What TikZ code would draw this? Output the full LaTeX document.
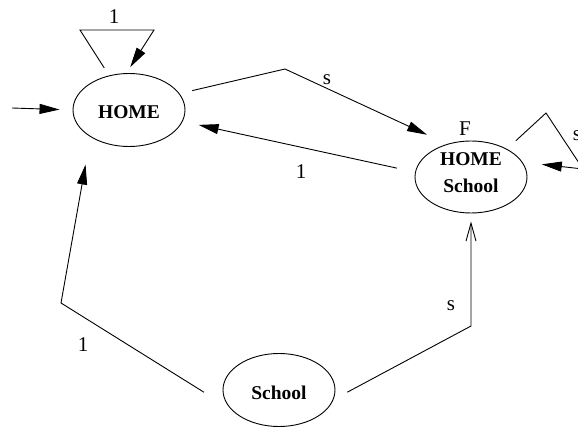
\documentclass[tikz,border=0pt]{standalone}
\usepackage{fontspec}
\setmainfont{Liberation Serif}
\usetikzlibrary{arrows.meta,shapes.geometric}
\tikzset{
  state/.style={draw, ellipse, line width=0.9pt, minimum width=112pt, minimum height=73pt, inner sep=0pt,
    font=\fontsize{19.5}{27.7}\selectfont\bfseries},
  conn/.style={draw, line width=0.9pt},
  filled/.style={conn, -{Triangle[length=20pt,width=10pt]}},
  openarr/.style={conn, -{Straight Barb[length=18pt,width=10pt,line width=0.9pt]}},
  lab/.style={font=\fontsize{21}{24}\selectfont, inner sep=0pt}
}
\begin{document}
\begin{tikzpicture}[x=1pt,y=-1pt]
\clip (0,0) rectangle (578,427);
\fill[white] (0,0) rectangle (578,427);
% states
\node[state, text height=18pt, text depth=0pt] (home) at (129,110) {HOME};
\node[state, minimum height=72pt, align=center, text depth=9pt] (hs) at (471,177) {HOME\\School};
\node[state, text height=18pt, text depth=0pt] (school) at (279,390) {School};
% corner points
\coordinate (init) at (12,108);
\coordinate (lh1) at (80,30);
\coordinate (lh2) at (154,30);
\coordinate (cA) at (285,69);
\coordinate (ls1) at (546,113);
\coordinate (ls2) at (583,169);
\coordinate (cC) at (61,303);
\coordinate (cD) at (471,326);
% connectors
\draw[filled, shorten >=13pt] (init) -- (home.west);
\draw[filled, shorten <=9pt, shorten >=7pt] (home.120.5) -- (lh1) -- (lh2) -- (home.94.3);
\draw[filled, shorten <=13pt, shorten >=22pt] (home.18) -- (cA) -- (hs.126);
\draw[filled, shorten <=18.7pt, shorten >=16.3pt] (hs.175) -- (home.-12);
\draw[filled, shorten <=12pt, shorten >=19.3pt] (hs.38.5) -- (ls1) -- (ls2) -- (hs.16.8);
\draw[filled, shorten <=31pt, shorten >=28pt] (school.201) -- (cC) -- (home.215);
\draw[openarr, shorten <=15.7pt, shorten >=8pt] (school.-10) -- (cD) -- (hs.south);
% labels
\node[lab] (l1) at (114,17) {1};
\node[lab] (l2) at (327,80) {s};
\node[lab] (l3) at (465,129) {F};
\node[lab] (l4) at (301,172) {1};
\node[lab] (l5) at (577,136) {s};
\node[lab] (l6) at (83,345) {1};
\node[lab] (l7) at (451,306) {s};
\end{tikzpicture}
\end{document}
